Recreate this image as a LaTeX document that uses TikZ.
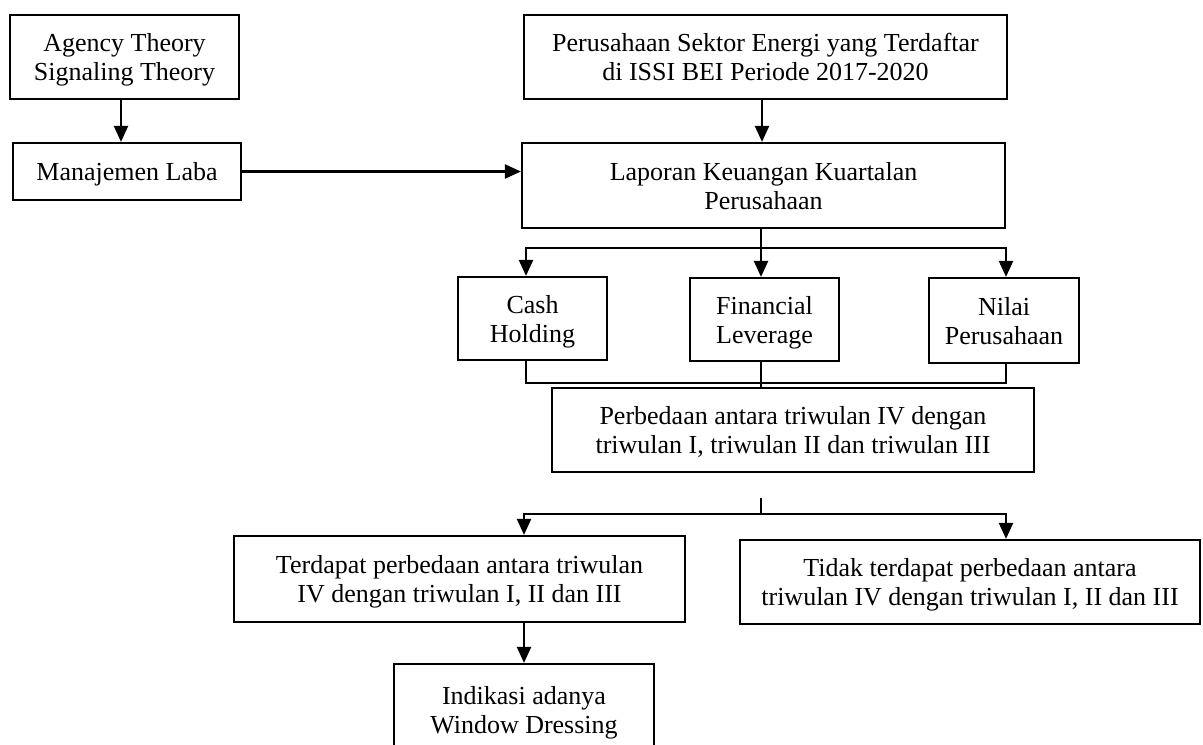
\documentclass[tikz,border=0pt]{standalone}
\usepackage{fontspec}
\setmainfont{Liberation Serif}
\usepackage{tikz}
\usetikzlibrary{positioning,calc,arrows.meta}

\tikzset{
  flowbox/.style={draw, line width=1.1pt, align=center, inner sep=0pt,
    text depth=-1.5pt, font=\fontsize{13pt}{14.5pt}\selectfont},
  flowline/.style={line width=1.1pt},
  flowarrow/.style={line width=1.1pt, -{Triangle[length=8pt, width=7pt]}}
}

\begin{document}
\begin{tikzpicture}[x=0.5pt, y=-0.5pt]
  \useasboundingbox (0,0) rectangle (1203,744);

  % theory and earnings management
  \node[flowbox, minimum width=114.5pt, minimum height=42pt] (agency) at (124.5, 57) {Agency Theory\\Signaling Theory};
  \node[flowbox, minimum width=114pt, minimum height=28.5pt] (manaj) at (127, 171.5) {Manajemen Laba};

  % sample and reports
  \node[flowbox, minimum width=241.5pt, minimum height=42pt] (perus) at (765.5, 57) {Perusahaan Sektor Energi yang Terdaftar\\di ISSI BEI Periode 2017-2020};
  \node[flowbox, minimum width=241.5pt, minimum height=42.5pt] (lapor) at (763.5, 185.5) {Laporan Keuangan Kuartalan\\Perusahaan};

  % variables
  \node[flowbox, minimum width=74.5pt, minimum height=41.5pt] (cash) at (532.5, 318.5) {Cash\\Holding};
  \node[flowbox, minimum width=74.5pt, minimum height=41.5pt] (finlev) at (764.5, 319.5) {Financial\\Leverage};
  \node[flowbox, minimum width=75pt, minimum height=42.5pt] (nilai) at (1004, 320.5) {Nilai\\Perusahaan};

  % test and outcomes
  \node[flowbox, minimum width=241pt, minimum height=42pt] (beda) at (793, 430) {Perbedaan antara triwulan IV dengan\\triwulan I, triwulan II dan triwulan III};
  \node[flowbox, minimum width=225.5pt, minimum height=43pt] (ada) at (459.5, 579) {Terdapat perbedaan antara triwulan\\IV dengan triwulan I, II dan III};
  \node[flowbox, minimum width=230pt, minimum height=42pt] (tidak) at (970, 582) {Tidak terdapat perbedaan antara\\triwulan IV dengan triwulan I, II dan III};
  \node[flowbox, minimum width=130pt, minimum height=46pt] (indik) at (524, 710) {Indikasi adanya\\Window Dressing};

  % split and merge points
  \coordinate (splitA) at (761, 248);
  \coordinate (merge) at (761, 383);
  \coordinate (stemtop) at (761, 498);
  \coordinate (splitB) at (761, 514);

  % connectors
  \draw[flowarrow] (agency.south -| 121, 0) -- (manaj.north -| 121, 0);
  \draw[flowarrow] (manaj.east) -- (manaj.east -| lapor.west);
  \draw[flowarrow] (perus.south -| 762, 0) -- (lapor.north -| 762, 0);
  \draw[flowline] (lapor.south -| splitA) -- (splitA);
  \draw[flowarrow] (splitA) -| (cash.north -| 526, 0);
  \draw[flowarrow] (splitA) -- (finlev.north -| splitA);
  \draw[flowarrow] (splitA) -| (nilai.north -| 1006, 0);
  \draw[flowline] (cash.south -| 526, 0) |- (merge) -| (nilai.south -| 1006, 0);
  \draw[flowline] (finlev.south -| merge) -- (beda.north -| merge);
  \draw[flowline] (stemtop) -- (splitB);
  \draw[flowarrow] (splitB) -| (ada.north -| indik.north);
  \draw[flowarrow] (splitB) -| (tidak.north -| 1006, 0);
  \draw[flowarrow] (ada.south -| indik.north) -- (indik.north);
\end{tikzpicture}
\end{document}
